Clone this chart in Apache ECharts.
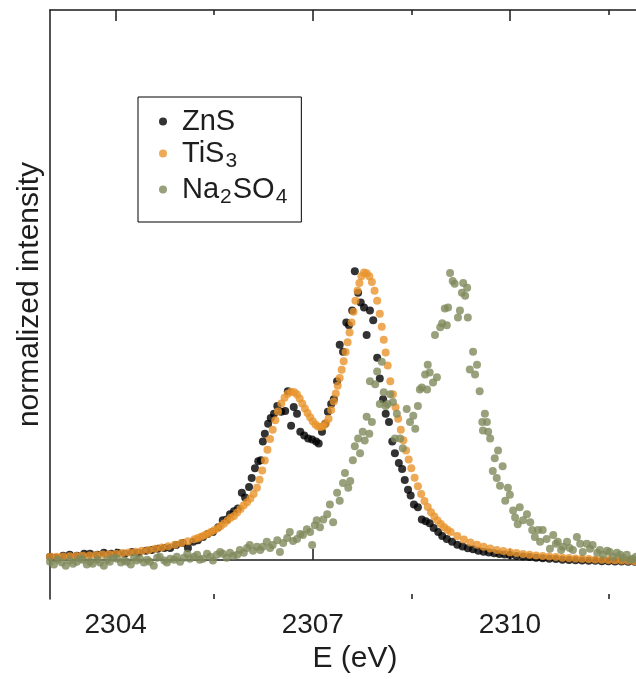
<!DOCTYPE html>
<html>
<head>
<meta charset="utf-8">
<script src="https://cdn.jsdelivr.net/npm/echarts@6/dist/echarts.min.js"></script>
<style>
  html, body { margin: 0; padding: 0; background: #ffffff; }
  #chart { width: 636px; height: 679px; }
</style>
</head>
<body>
<div id="chart"></div>
<script>
// S K-edge spectra: photon energy (eV) and normalized intensity for each sample.
const znsE = [2303.00,2303.09,2303.20,2303.30,2303.41,2303.52,2303.61,2303.72,2303.82,2303.93,
  2304.03,2304.14,2304.25,2304.35,2304.46,2304.55,2304.64,2304.74,2304.83,2304.92,
  2305.02,2305.10,2305.18,2305.25,2305.33,2305.40,2305.48,2305.56,2305.63,2305.69,
  2305.74,2305.80,2305.86,2305.92,2305.97,2306.03,2306.07,2306.12,2306.17,2306.21,
  2306.24,2306.27,2306.32,2306.36,2306.41,2306.46,2306.52,2306.58,2306.62,2306.67,
  2306.71,2306.76,2306.81,2306.87,2306.93,2306.99,2307.05,2307.09,2307.14,2307.19,
  2307.23,2307.28,2307.32,2307.37,2307.41,2307.46,2307.51,2307.55,2307.60,2307.64,
  2307.69,2307.73,2307.78,2307.82,2307.87,2307.92,2307.98,2308.02,2308.07,2308.11,
  2308.16,2308.21,2308.25,2308.31,2308.36,2308.40,2308.45,2308.49,2308.54,2308.60,
  2308.66,2308.72,2308.78,2308.84,2308.91,2308.97,2309.04,2309.12,2309.20,2309.28,
  2309.36,2309.44,2309.52,2309.60,2309.68,2309.76,2309.84,2309.92,2310.00,2310.10,
  2310.20,2310.30,2310.40,2310.50,2310.60,2310.70,2310.80,2310.90,2311.00,2311.10,
  2311.20,2311.30,2311.40,2311.50,2311.60,2311.70,2311.80,2311.90,2312.00];
const znsI = [0.010,0.007,0.014,0.017,0.014,0.021,0.021,0.017,0.024,0.021,
  0.024,0.021,0.027,0.024,0.031,0.034,0.038,0.041,0.041,0.051,
  0.058,0.041,0.062,0.068,0.079,0.089,0.096,0.113,0.137,0.140,
  0.158,0.168,0.178,0.233,0.216,0.253,0.284,0.318,0.342,0.346,
  0.411,0.438,0.473,0.493,0.507,0.534,0.514,0.517,0.586,0.466,
  0.531,0.507,0.445,0.432,0.421,0.418,0.411,0.404,0.445,0.473,
  0.514,0.541,0.558,0.620,0.747,0.723,0.825,0.815,0.866,1.003,
  0.928,0.894,0.877,0.781,0.866,0.832,0.702,0.630,0.558,0.507,
  0.479,0.411,0.370,0.336,0.315,0.277,0.243,0.223,0.192,0.182,
  0.140,0.134,0.127,0.110,0.096,0.082,0.072,0.062,0.052,0.046,
  0.040,0.036,0.031,0.028,0.025,0.022,0.020,0.018,0.016,0.013,
  0.011,0.009,0.007,0.005,0.003,0.002,0.000,-0.001,-0.002,-0.003,
  -0.004,-0.004,-0.005,-0.005,-0.006,-0.006,-0.007,-0.007,-0.008];

const tis3E = [2303.00,2303.10,2303.20,2303.30,2303.40,2303.50,2303.60,2303.70,2303.80,2303.90,
  2304.00,2304.10,2304.20,2304.30,2304.40,2304.50,2304.60,2304.70,2304.80,2304.90,
  2305.00,2305.10,2305.20,2305.25,2305.30,2305.35,2305.40,2305.45,2305.50,2305.55,
  2305.60,2305.65,2305.70,2305.75,2305.80,2305.85,2305.90,2305.95,2306.00,2306.05,
  2306.10,2306.15,2306.19,2306.23,2306.27,2306.31,2306.35,2306.39,2306.43,2306.47,
  2306.52,2306.57,2306.62,2306.67,2306.72,2306.76,2306.80,2306.84,2306.88,2306.92,
  2306.96,2307.00,2307.04,2307.08,2307.12,2307.16,2307.20,2307.24,2307.28,2307.32,
  2307.35,2307.38,2307.41,2307.44,2307.47,2307.50,2307.53,2307.56,2307.59,2307.62,
  2307.65,2307.68,2307.71,2307.74,2307.78,2307.82,2307.86,2307.90,2307.94,2307.98,
  2308.02,2308.05,2308.08,2308.11,2308.14,2308.18,2308.22,2308.26,2308.30,2308.34,
  2308.38,2308.42,2308.46,2308.50,2308.55,2308.60,2308.65,2308.70,2308.75,2308.80,
  2308.85,2308.90,2308.95,2309.00,2309.05,2309.10,2309.20,2309.30,2309.40,2309.50,
  2309.60,2309.70,2309.80,2309.90,2310.00,2310.10,2310.20,2310.30,2310.40,2310.50,
  2310.60,2310.70,2310.80,2310.90,2311.00,2311.10,2311.20,2311.30,2311.40,2311.50,
  2311.60,2311.70,2311.80,2311.90,2312.00];
const tis3I = [0.010,0.010,0.011,0.012,0.013,0.014,0.015,0.016,0.018,0.019,
  0.021,0.023,0.025,0.028,0.031,0.034,0.038,0.042,0.047,0.052,
  0.058,0.064,0.071,0.075,0.080,0.085,0.090,0.096,0.102,0.109,
  0.117,0.126,0.136,0.146,0.152,0.164,0.176,0.189,0.200,0.213,
  0.228,0.250,0.278,0.310,0.345,0.382,0.420,0.452,0.485,0.515,
  0.543,0.563,0.577,0.584,0.582,0.574,0.560,0.543,0.526,0.510,
  0.495,0.481,0.470,0.463,0.461,0.465,0.475,0.490,0.520,0.550,
  0.578,0.605,0.632,0.660,0.690,0.722,0.756,0.790,0.825,0.862,
  0.900,0.935,0.962,0.985,0.998,0.996,0.985,0.965,0.935,0.900,
  0.855,0.810,0.765,0.720,0.675,0.620,0.575,0.530,0.490,0.452,
  0.415,0.380,0.348,0.318,0.285,0.255,0.228,0.204,0.183,0.165,
  0.150,0.136,0.124,0.113,0.104,0.096,0.082,0.070,0.060,0.052,
  0.045,0.039,0.034,0.030,0.026,0.023,0.020,0.017,0.015,0.013,
  0.011,0.009,0.007,0.006,0.004,0.003,0.002,0.001,0.000,-0.001,
  -0.002,-0.003,-0.004,-0.005,-0.006];

const na2so4E = [2303.00,2303.06,2303.12,2303.18,2303.24,2303.30,2303.35,2303.41,2303.46,2303.50,
  2303.56,2303.61,2303.65,2303.72,2303.76,2303.82,2303.87,2303.91,2303.97,2304.02,
  2304.08,2304.13,2304.17,2304.23,2304.28,2304.32,2304.37,2304.43,2304.48,2304.52,
  2304.58,2304.63,2304.67,2304.74,2304.78,2304.83,2304.89,2304.93,2304.98,2305.04,
  2305.09,2305.13,2305.19,2305.24,2305.28,2305.33,2305.39,2305.44,2305.48,2305.54,
  2305.59,2305.63,2305.69,2305.74,2305.79,2305.85,2305.89,2305.95,2306.00,2306.04,
  2306.09,2306.15,2306.20,2306.24,2306.30,2306.35,2306.39,2306.46,2306.50,2306.55,
  2306.61,2306.65,2306.70,2306.76,2306.81,2306.85,2306.91,2306.96,2306.99,2307.03,
  2307.06,2307.11,2307.16,2307.22,2307.26,2307.31,2307.37,2307.41,2307.46,2307.49,
  2307.54,2307.57,2307.61,2307.64,2307.69,2307.72,2307.76,2307.79,2307.82,2307.86,
  2307.87,2307.90,2307.95,2307.98,2308.02,2308.05,2308.08,2308.11,2308.14,2308.18,
  2308.22,2308.25,2308.28,2308.33,2308.37,2308.43,2308.48,2308.53,2308.56,2308.60,
  2308.63,2308.66,2308.71,2308.74,2308.75,2308.78,2308.83,2308.86,2308.89,2308.94,
  2308.97,2309.01,2309.04,2309.06,2309.09,2309.13,2309.16,2309.21,2309.24,2309.27,
  2309.29,2309.32,2309.35,2309.36,2309.39,2309.44,2309.47,2309.50,2309.54,2309.58,
  2309.59,2309.62,2309.65,2309.67,2309.70,2309.74,2309.77,2309.80,2309.82,2309.85,
  2309.89,2309.93,2309.97,2310.00,2310.05,2310.08,2310.12,2310.15,2310.20,2310.26,
  2310.31,2310.34,2310.38,2310.43,2310.46,2310.50,2310.56,2310.61,2310.66,2310.70,
  2310.73,2310.78,2310.81,2310.87,2310.91,2310.96,2311.02,2311.07,2311.11,2311.17,
  2311.22,2311.26,2311.33,2311.37,2311.42,2311.48,2311.52,2311.57,2311.63,2311.68,
  2311.72,2311.78,2311.83,2311.87,2311.92,2311.97,2312.02];
const na2so4I = [-0.007,-0.017,0.000,-0.010,-0.021,-0.003,-0.014,-0.007,0.003,0.000,
  -0.017,-0.007,-0.014,0.000,-0.010,-0.021,0.000,-0.007,0.007,0.003,
  -0.010,-0.003,-0.007,-0.017,0.007,-0.003,0.003,-0.010,0.000,-0.007,
  -0.021,0.007,0.010,-0.003,-0.010,0.003,0.000,0.010,-0.007,0.007,
  0.021,0.003,0.010,0.017,0.000,0.003,0.021,0.010,-0.003,0.017,
  0.027,0.021,0.007,0.024,0.014,0.017,0.034,0.024,0.041,0.051,
  0.031,0.045,0.034,0.045,0.062,0.041,0.051,0.068,0.027,0.058,
  0.075,0.096,0.065,0.072,0.089,0.086,0.106,0.096,0.051,0.120,
  0.137,0.113,0.140,0.158,0.192,0.130,0.233,0.205,0.267,0.301,
  0.250,0.274,0.346,0.394,0.421,0.370,0.445,0.414,0.497,0.438,
  0.620,0.479,0.610,0.654,0.541,0.688,0.582,0.534,0.541,0.575,
  0.548,0.421,0.507,0.421,0.387,0.524,0.479,0.500,0.455,0.534,
  0.592,0.599,0.644,0.592,0.678,0.651,0.616,0.781,0.634,0.808,
  0.822,0.873,0.815,0.877,0.997,0.969,0.959,0.842,0.866,0.928,
  0.962,0.918,0.945,0.842,0.661,0.723,0.644,0.678,0.586,0.479,
  0.449,0.507,0.479,0.445,0.421,0.308,0.353,0.284,0.380,0.257,
  0.325,0.205,0.250,0.226,0.171,0.147,0.123,0.182,0.137,0.158,
  0.130,0.103,0.079,0.103,0.062,0.103,0.072,0.038,0.086,0.055,
  0.062,0.034,0.045,0.062,0.041,0.034,0.079,0.055,0.027,0.055,
  0.038,0.051,0.024,0.034,0.017,0.031,0.027,0.010,0.024,0.017,
  0.007,0.017,0.000,0.003,0.010,0.007,0.014];

const seriesNames = ['ZnS', 'TiS3', 'Na2SO4'];
// Legend labels with chemical subscripts; {f|...} is the first fragment of a label.
const legendLabels = {
  'ZnS': '{f|ZnS}',
  'TiS3': '{f|TiS}{sub|3}',
  'Na2SO4': '{f|Na}{sub|2}{n|SO}{sub|4}'
};
const majorTicks = [2304, 2307, 2310];
const minorTicks = [2305.5, 2308.5, 2311.5];

const colors = ['#000000', '#e8932c', '#7f8a5b'];
const FONT = "'Liberation Sans', Arial, Helvetica, sans-serif";
const FS = 28;
const NAME_FS = 30;

function pairs(xs, ys) {
  return xs.map((x, i) => [x, ys[i]]);
}

const chart = echarts.init(document.getElementById('chart'), null, { renderer: 'canvas' });

const axisLineStyle = { color: '#1a1a1a', width: 1.5 };
const X_MIN = 2303;
const X_MAX = 2311.92;

function tickAxis(position, values, len, withLine) {
  return {
    type: 'value', position: position, min: X_MIN, max: X_MAX,
    axisLine: { show: withLine, lineStyle: axisLineStyle },
    axisTick: { show: true, inside: true, length: len, customValues: values,
      lineStyle: { color: '#1a1a1a', width: 1.5 } },
    axisLabel: { show: false },
    splitLine: { show: false }
  };
}

const textColor = '#1e1e1e';

const option = {
  animation: false,
  backgroundColor: '#ffffff',
  textStyle: { fontFamily: FONT },
  grid: { left: 50, top: 10, bottom: 71, right: 0 },
  legend: {
    data: seriesNames,
    orient: 'vertical',
    left: 138, top: 97,
    padding: [10, 14, 14, 21],
    itemGap: 3,
    itemWidth: 8, itemHeight: 8,
    icon: 'circle',
    borderColor: '#000000', borderWidth: 1,
    formatter: name => legendLabels[name],
    textStyle: {
      fontFamily: FONT, fontSize: 29, color: textColor,
      rich: {
        f: { fontFamily: FONT, fontSize: 29, color: textColor, padding: [0, 0, 0, 10] },
        n: { fontFamily: FONT, fontSize: 29, color: textColor },
        sub: { fontFamily: FONT, fontSize: 21, color: textColor, padding: [16, 1, 0, 1] }
      }
    }
  },
  xAxis: [
    {
      type: 'value', position: 'bottom', min: X_MIN, max: X_MAX,
      axisLine: { show: true, lineStyle: axisLineStyle },
      axisTick: { show: true, inside: true, length: 11, customValues: majorTicks,
        lineStyle: { color: '#1a1a1a', width: 1.5 } },
      axisLabel: { show: true, customValues: majorTicks, fontFamily: FONT, fontSize: FS,
        color: textColor, margin: 12, formatter: v => String(v) },
      splitLine: { show: false },
      name: 'E (eV)', nameLocation: 'middle', nameGap: 40,
      nameTextStyle: { fontFamily: FONT, fontSize: NAME_FS, color: textColor, padding: [0, 0, 0, 24] }
    },
    tickAxis('bottom', minorTicks, 5, false),
    tickAxis('top', majorTicks, 11, true),
    tickAxis('top', minorTicks, 5, false)
  ],
  yAxis: {
    type: 'value', min: -0.137, max: 1.911,
    axisLine: { show: true, lineStyle: axisLineStyle },
    axisTick: { show: false },
    axisLabel: { show: false },
    splitLine: { show: false },
    name: 'normalized intensity', nameLocation: 'middle', nameGap: 5,
    nameTextStyle: { fontFamily: FONT, fontSize: NAME_FS, color: textColor, padding: [0, 0, 0, 20] }
  },
  series: [
    { name: 'ZnS', type: 'scatter', symbolSize: 8, itemStyle: { color: colors[0] },
      data: pairs(znsE, znsI) },
    { name: 'TiS3', type: 'scatter', symbolSize: 8, itemStyle: { color: colors[1] },
      data: pairs(tis3E, tis3I) },
    { name: 'Na2SO4', type: 'scatter', symbolSize: 8, itemStyle: { color: colors[2] },
      data: pairs(na2so4E, na2so4I) }
  ]
};

chart.setOption(option);
</script>
</body>
</html>
